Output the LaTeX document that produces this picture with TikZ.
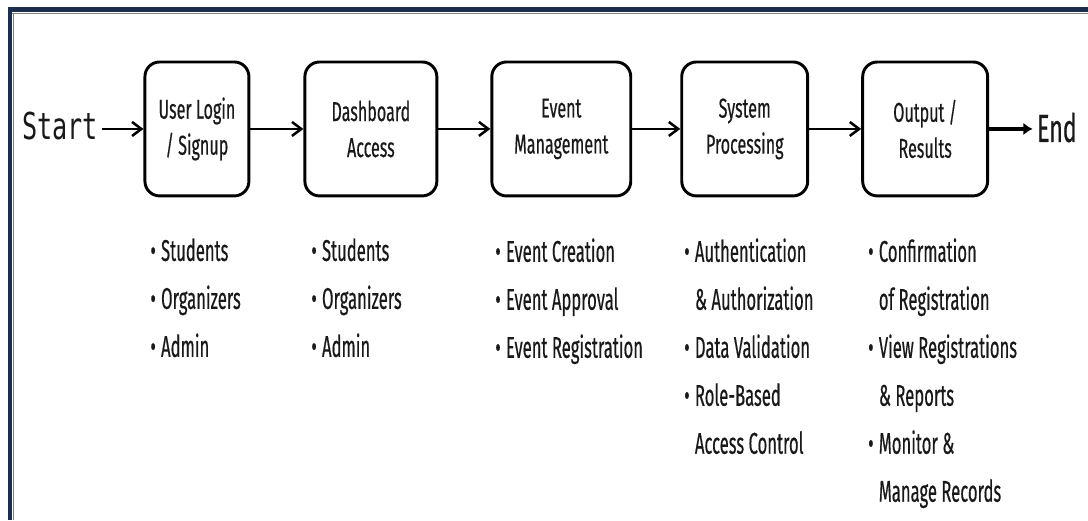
\documentclass[tikz,border=0pt]{standalone}
\usepackage{fontspec}
\setmainfont{Fira Sans}[FakeStretch=0.59,FakeBold=0.4]
\newfontfamily\listfnt{Fira Sans}[FakeStretch=0.555,FakeBold=0.4]
\newfontfamily\monofnt{DejaVu Sans Mono}[FakeStretch=0.68]
\usetikzlibrary{arrows.meta}

\definecolor{framenavy}{HTML}{1B2E4F}

\newcommand{\bul}{\makebox[8pt][l]{\textbullet}}
\newcommand{\cnt}{\hspace*{8pt}}

\tikzset{every picture/.style={line width=0.75pt}}
\tikzset{
  stage/.style={draw, rounded corners=11pt, line width=2.2pt, minimum height=100.5pt,
    inner sep=0pt, align=center, text=black!90, font=\fontsize{20.5}{27}\selectfont},
  note/.style={anchor=north west, align=left, inner sep=0pt, text=black!90,
    font=\listfnt\fontsize{22.5}{36}\selectfont},
  flow/.style={line width=1.9pt, -{Straight Barb[length=7pt,width=10.5pt,line width=1.9pt]}},
  flowend/.style={line width=3.4pt, -{Latex[length=7pt,width=9.5pt]}}
}

\begin{document}
\begin{tikzpicture}[x=0.75pt,y=0.75pt,yscale=-1,xscale=1]
  \path (0,0) rectangle (1088,520); %set diagram size 1088 x 520

  % frame on top and left
  \fill[framenavy] (8,7) rectangle (1088,12);
  \fill[framenavy] (8,7) rectangle (12,520);
  \draw[gray, line width=0.6pt] (12,13.5) -- (1088,13.5);
  \draw[gray, line width=0.6pt] (13.5,13.5) -- (13.5,520);

  \node[anchor=base, inner sep=3pt, text=black!90, font=\monofnt\fontsize{27.8}{30}\selectfont] (start) at (60,140) {Start};

  \node[stage, minimum width=78pt] (b1) at (197,129) {User Login\\/ Signup};
  \node[stage, minimum width=99pt] (b2) at (371,129) {Dashboard\\Access};
  \node[stage, minimum width=104.25pt] (b3) at (561.5,129) {Event\\Management};
  \node[stage, minimum width=94.5pt] (b4) at (745,129) {System\\Processing};
  \node[stage, minimum width=93.75pt] (b5) at (925.5,129) {Output /\\Results};

  \node[anchor=base west, inner sep=3pt, text=black!90, font=\fontsize{29.4}{30}\selectfont] (finish) at (1033,142) {End};

  \draw[flow] (start.east |- b1.west) -- (b1.west);
  \draw[flow] (b1) -- (b2);
  \draw[flow] (b2) -- (b3);
  \draw[flow] (b3) -- (b4);
  \draw[flow] (b4) -- (b5);
  \draw[flowend] (b5.east) -- (b5.east -| finish.west);

  \node[note] (l1) at (150,238) {\bul Students\\\bul Organizers\\\bul Admin};
  \node[note] (l2) at (311,238) {\bul Students\\\bul Organizers\\\bul Admin};
  \node[note] (l3) at (495,238) {\bul Event Creation\\\bul Event Approval\\\bul Event Registration};
  \node[note] (l4) at (684,238) {\bul Authentication\\\cnt \& Authorization\\\bul Data Validation\\\bul Role-Based\\\cnt Access Control};
  \node[note] (l5) at (868,238) {\bul Confirmation\\\cnt of Registration\\\bul View Registrations\\\cnt \& Reports\\\bul Monitor \&\\\cnt Manage Records};

\end{tikzpicture}
\end{document}
